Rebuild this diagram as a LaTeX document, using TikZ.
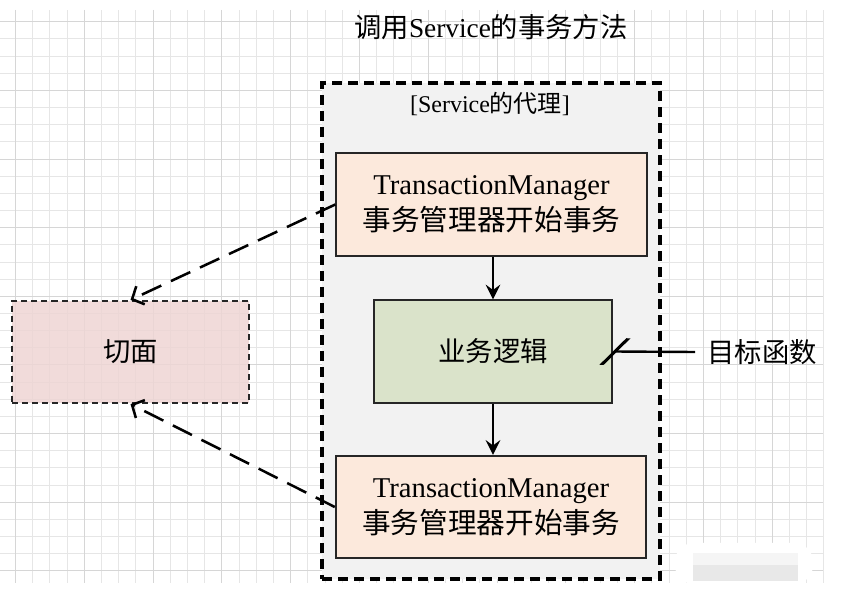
\documentclass[tikz,border=0pt]{standalone}
\usepackage{fontspec}
\setmainfont{Liberation Serif}
\newfontfamily\cjk{Noto Sans CJK SC}
\usetikzlibrary{arrows.meta}

\definecolor{gridminor}{HTML}{E6E6E6}
\definecolor{gridmajor}{HTML}{D6D6D6}
\definecolor{proxyfill}{HTML}{F2F2F2}
\definecolor{tmfill}{HTML}{FCE9DC}
\definecolor{logicfill}{HTML}{DAE3CA}
\definecolor{aspectfill}{HTML}{EED5D4}

\begin{document}
\begin{tikzpicture}[x=0.75pt,y=-0.75pt,
  tmbox/.style={draw=black!85,line width=1.3pt,fill=tmfill,inner sep=0pt,
    minimum width=233pt,minimum height=77pt,align=center,
    font=\fontsize{21.5}{27}\selectfont},
  flowarrow/.style={-{Stealth[length=11pt,width=11pt,inset=4pt]}},
  aspectarrow/.style={line width=1.9pt,dash pattern=on 16pt off 8pt,
    -{Straight Barb[length=7pt,width=15pt]}}]
\useasboundingbox (0,0) rectangle (844,598);

% grid
\foreach \i in {0,...,47}
  \draw[gridminor,line width=0.6pt] ({15.3+17.2*\i},10) -- ({15.3+17.2*\i},583);
\foreach \i in {0,...,32}
  \draw[gridminor,line width=0.6pt] (0,{21.7+17.16*\i}) -- (823,{21.7+17.16*\i});
\foreach \i in {0,4,...,44}
  \draw[gridmajor,line width=0.6pt] ({15.3+17.2*\i},10) -- ({15.3+17.2*\i},583);
\foreach \i in {0,4,...,32}
  \draw[gridmajor,line width=0.6pt] (0,{21.7+17.16*\i}) -- (823,{21.7+17.16*\i});

% blurred mark
\fill[white,rounded corners=14pt] (675,543) rectangle (813,584);
\fill[black!4] (693,553) rectangle (798,565);
\fill[black!9] (693,565) rectangle (798,581);

\node (title) at (491,27) {\fontsize{20.5}{23}\selectfont{\cjk 调用}Service{\cjk 的事务方法}};

\node[draw,line width=2.6pt,dash pattern=on 7.5pt off 4.5pt,fill=proxyfill,
  minimum width=253.5pt,minimum height=372pt,inner sep=0pt] (proxy) at (491,331) {};
\node (proxylabel) at (490,104) {\fontsize{18}{20}\selectfont[Service{\cjk 的代理}]};

\node[tmbox] (tm1) at (491.5,204.5) {TransactionManager\\{\cjk 事务管理器开始事务}};
\node[draw=black!85,line width=1.3pt,fill=logicfill,inner sep=0pt,
  minimum width=178.5pt,minimum height=77pt] (logic) at (493,351.5)
  {\fontsize{20.5}{24}\selectfont\cjk 业务逻辑};
\node[tmbox] (tm2) at (491,507) {TransactionManager\\{\cjk 事务管理器开始事务}};

\node[draw=black!85,line width=1.6pt,dash pattern=on 4.5pt off 3pt,
  fill=aspectfill,fill opacity=0.85,text opacity=1,inner sep=0pt,
  minimum width=177.5pt,minimum height=76.5pt] (aspect) at (130.5,352)
  {\fontsize{20.5}{24}\selectfont\cjk 切面};

\node[inner sep=9pt] (target) at (762,352) {\fontsize{20.5}{24}\selectfont\cjk 目标函数};

\draw[flowarrow,line width=1.2pt] (logic.north |- tm1.south) -- (logic.north);
\draw[flowarrow,line width=2pt] (logic.south) -- (logic.south |- tm2.north);
\draw[line width=1.8pt,-{Bar[width=20pt,slant=1,line width=3.2pt]}] (target.west) -- (logic.east);

\draw[aspectarrow] (tm1.west) -- (aspect.north);
\draw[aspectarrow] (tm2.west) -- (aspect.south);
\end{tikzpicture}
\end{document}
